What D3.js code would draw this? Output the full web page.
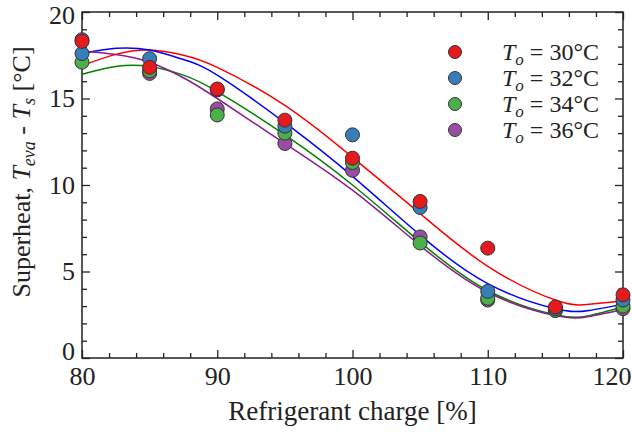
<!DOCTYPE html>
<html>
<head>
<meta charset="utf-8">
<script src="https://cdn.jsdelivr.net/npm/d3@7"></script>
<style>
  body { margin: 0; background: #fff; }
</style>
</head>
<body>
<svg id="chart" width="632" height="432"></svg>
<script>
// measured points
let charge = [80, 85, 90, 95, 100, 105, 110, 115, 120];
let sh30 = [18.3, 16.8, 15.55, 13.75, 11.55, 9.05, 6.35, 2.95, 3.65];
let sh32 = [17.6, 17.3, 15.5, 13.4, 12.9, 8.7, 3.85, 2.85, 3.35];
let sh34 = [17.1, 16.6, 14.05, 13.0, 11.3, 6.65, 3.45, 2.75, 3.0];
let sh36 = [18.4, 16.45, 14.4, 12.4, 10.85, 7.0, 3.35, 2.75, 2.85];

// fitted curves
let fitX = [80, 82.5, 85, 87.5, 90, 95, 100, 105, 110, 115, 117.5, 120];
let fit30 = [16.9, 17.55, 17.8, 17.5, 16.8, 14.6, 11.6, 8.35, 5.3, 3.35, 3.1, 3.3];
let fit32 = [17.6, 17.9, 17.8, 17.25, 16.35, 13.6, 10.5, 7.1, 4.3, 2.85, 2.75, 3.1];
let fit34 = [16.4, 16.85, 16.85, 16.35, 15.4, 12.9, 10.0, 6.7, 3.9, 2.5, 2.45, 2.95];
let fit36 = [17.75, 17.55, 17.1, 16.2, 15.0, 12.4, 9.7, 6.5, 3.8, 2.45, 2.4, 2.8];

let labels = ["30", "32", "34", "36"];
let xTicks = [80, 90, 100, 110, 120];
let yTicks = [0, 5, 10, 15, 20];

let series = [
  {name: labels[0], pts: sh30, fit: fit30, fill: "#e41a1c", line: "#ff0000"},
  {name: labels[1], pts: sh32, fit: fit32, fill: "#377eb8", line: "#0000ff"},
  {name: labels[2], pts: sh34, fit: fit34, fill: "#4daf4a", line: "#008000"},
  {name: labels[3], pts: sh36, fit: fit36, fill: "#984ea3", line: "#8e1a8e"}
];

const FONT = '"Liberation Serif"';
let mLeft = 82, mRight = 623, mTop = 12, mBottom = 358;
let svg = d3.select("#chart");

let x = d3.scaleLinear().domain([80, 120]).range([mLeft, mRight]);
let y = d3.scaleLinear().domain([0, 20]).range([mBottom, mTop]);

// frame
svg.append("rect")
  .attr("x", mLeft).attr("y", mTop)
  .attr("width", mRight - mLeft).attr("height", mBottom - mTop)
  .attr("fill", "none").attr("stroke", "#222").attr("stroke-width", 1.5);

// inward ticks: negative size points into the plot on every side
function drawAxis(axis, pos, vals, size, labelled) {
  let g = svg.append("g").attr("transform", pos)
    .call(axis.tickValues(vals).tickSize(-size).tickPadding(7)
      .tickFormat(labelled ? d3.format("d") : ""));
  g.select(".domain").remove();
  g.selectAll("line").attr("stroke", "#222").attr("stroke-width", 1.3);
  g.selectAll("text")
    .style("font-family", FONT).style("font-size", "26px").attr("fill", "#222");
  return g;
}

let xMinor = d3.range(82, 120, 2).filter(v => v % 10 !== 0);
let yMinor = d3.range(1, 20, 1).filter(v => v % 5 !== 0);

drawAxis(d3.axisBottom(x), `translate(0,${mBottom})`, xMinor, 5, false);
let gx = drawAxis(d3.axisBottom(x), `translate(0,${mBottom})`, xTicks, 8, true);
gx.selectAll("text").attr("dy", "0.75em");
// keep the last label inside the page
gx.selectAll("text").filter(d => d === 120).attr("text-anchor", "end").attr("x", 8);
drawAxis(d3.axisTop(x), `translate(0,${mTop})`, xMinor, 5, false);
drawAxis(d3.axisTop(x), `translate(0,${mTop})`, xTicks, 8, false);
drawAxis(d3.axisLeft(y), `translate(${mLeft},0)`, yMinor, 5, false);
let gy = drawAxis(d3.axisLeft(y), `translate(${mLeft},0)`, yTicks, 8, true);
gy.selectAll("text").filter(d => d === 20).attr("dy", "0.45em");
gy.selectAll("text").filter(d => d === 0).attr("dy", "0.05em");
drawAxis(d3.axisRight(y), `translate(${mRight},0)`, yMinor, 5, false);
drawAxis(d3.axisRight(y), `translate(${mRight},0)`, yTicks, 8, false);

// curves
let line = d3.line().x((d, i) => x(fitX[i])).y(d => y(d)).curve(d3.curveNatural);
series.forEach(s => {
  svg.append("path")
    .attr("d", line(s.fit))
    .attr("fill", "none")
    .attr("stroke", s.line)
    .attr("stroke-width", 1.5);
});

// points, last series drawn first so red sits on top
series.slice().reverse().forEach(s => {
  svg.selectAll(null)
    .data(s.pts)
    .enter().append("circle")
    .attr("cx", (d, i) => x(charge[i]))
    .attr("cy", d => y(d))
    .attr("r", 7)
    .attr("fill", s.fill)
    .attr("stroke", "#333")
    .attr("stroke-width", 1);
});

// legend
let lg = svg.append("g");
series.forEach((s, i) => {
  let yy = 52 + i * 26;
  lg.append("circle").attr("cx", 455).attr("cy", yy).attr("r", 6.5)
    .attr("fill", s.fill).attr("stroke", "#333").attr("stroke-width", 1);
  let t = lg.append("text").attr("x", 502).attr("y", yy + 8)
    .style("font-family", FONT).style("font-size", "24px").attr("fill", "#222");
  t.append("tspan").text("T").style("font-style", "italic");
  t.append("tspan").text("o").style("font-style", "italic").style("font-size", "17px").attr("dy", 5);
  t.append("tspan").text(" = " + s.name + "°C").attr("dy", -5);
});

// axis titles
svg.append("text")
  .attr("x", (mLeft + mRight) / 2).attr("y", 420)
  .attr("text-anchor", "middle")
  .style("font-family", FONT).style("font-size", "27px").attr("fill", "#222")
  .text("Refrigerant charge [%]");

let yt = svg.append("text")
  .attr("transform", `translate(30,${(mTop + mBottom) / 2 - 13}) rotate(-90)`)
  .attr("text-anchor", "middle")
  .style("font-family", FONT).style("font-size", "26px").attr("fill", "#222");
yt.append("tspan").text("Superheat, ");
yt.append("tspan").text("T").style("font-style", "italic");
yt.append("tspan").text("eva").style("font-style", "italic").style("font-size", "18px").attr("dy", 5);
yt.append("tspan").text(" - ").attr("dy", -5);
yt.append("tspan").text("T").style("font-style", "italic");
yt.append("tspan").text("s").style("font-style", "italic").style("font-size", "18px").attr("dy", 5);
yt.append("tspan").text(" [°C]").attr("dy", -5);
</script>
</body>
</html>
